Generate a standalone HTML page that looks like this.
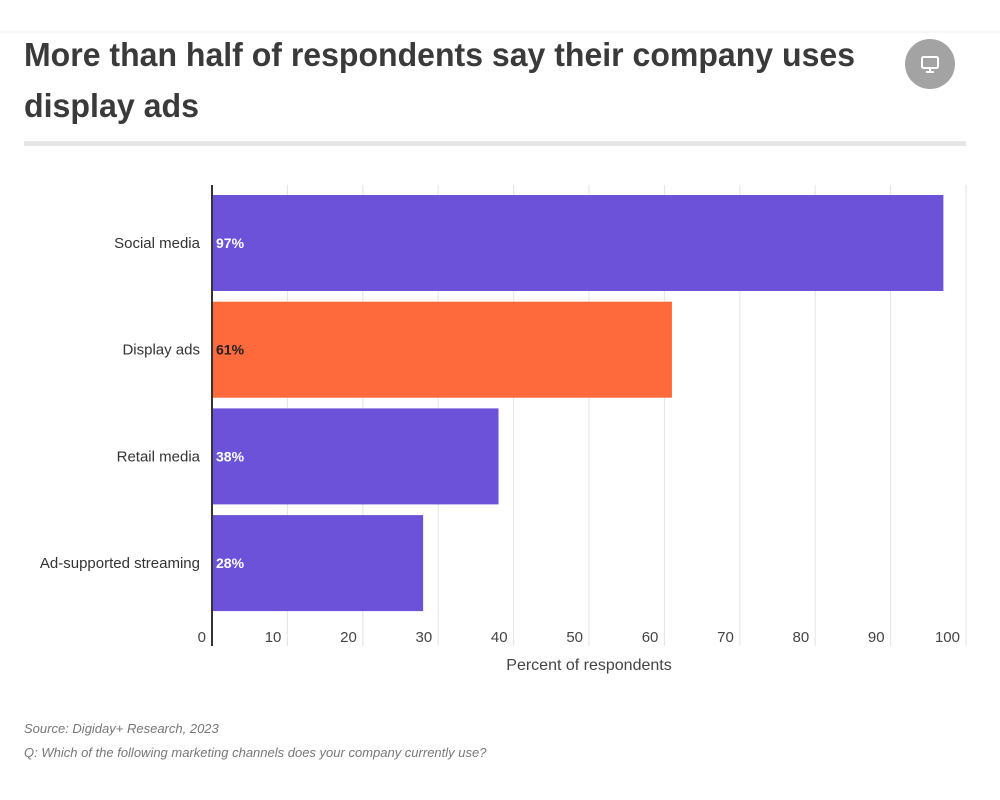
<!DOCTYPE html>
<html><head><meta charset="utf-8">
<style>
body{margin:0;background:#fff;font-family:"Liberation Sans",sans-serif;}
svg{display:block}
</style></head>
<body>
<svg width="1000" height="800" id="c">
<line x1="0" y1="32" x2="1000" y2="32" stroke="#f0f0f0" stroke-width="1"/>
<text x="24" y="66" font-size="33" font-weight="bold" fill="#3a3a3a" textLength="831" lengthAdjust="spacingAndGlyphs">More than half of respondents say their company uses</text>
<text x="24" y="117" font-size="33" font-weight="bold" fill="#3a3a3a" textLength="175" lengthAdjust="spacingAndGlyphs">display ads</text>
<g>
<circle cx="930" cy="64" r="25" fill="#a3a3a3"/>
<rect x="922" y="57" width="16" height="11" rx="1.5" fill="none" stroke="#fff" stroke-width="2"/>
<line x1="930" y1="68" x2="930" y2="72" stroke="#fff" stroke-width="2"/>
<line x1="926" y1="72" x2="934" y2="72" stroke="#fff" stroke-width="2"/>
</g>
<rect x="24" y="141" width="942" height="5" fill="#e6e6e6"/>
<g id="grid"></g>
<g id="bars"></g>
<line x1="212" y1="185" x2="212" y2="646" stroke="#333" stroke-width="2"/>
<text x="589" y="670" font-size="16" fill="#444" text-anchor="middle">Percent of respondents</text>
<text x="24" y="733" font-size="13" font-style="italic" fill="#777">Source: Digiday+ Research, 2023</text>
<text x="24" y="757" font-size="13" font-style="italic" fill="#777">Q: Which of the following marketing channels does your company currently use?</text>
</svg>
<script>
const categories=["Social media","Display ads","Retail media","Ad-supported streaming"];
const values=[97,61,38,28];
const highlight=[false,true,false,false];
const ticks=[0,10,20,30,40,50,60,70,80,90,100];
const NS="http://www.w3.org/2000/svg";
const X0=212,X1=966,TOPY=185,BOTY=646;
const xs=v=>X0+(X1-X0)*v/100;
const band=106.7;
const ys=i=>195+i*band;
function mk(t,a,p){const e=document.createElementNS(NS,t);for(const k in a)e.setAttribute(k,a[k]);p.appendChild(e);return e;}
const grid=document.getElementById('grid'),bars=document.getElementById('bars');
ticks.forEach(t=>{
 if(t>0){const l=mk('line',{x1:xs(t),x2:xs(t),y1:TOPY,y2:BOTY,stroke:'#e3e3e3','stroke-width':1},grid);
 
 }
 const tx=mk('text',{x:xs(t)-6,y:642,'font-size':15,fill:'#444','text-anchor':'end'},grid);
 tx.textContent=t;
 
 
});
categories.forEach((c,i)=>{
 const y=ys(i),h=96;
 const r=mk('rect',{x:X0,y:y,width:xs(values[i])-X0,height:h,fill:highlight[i]?'#ff6a3d':'#6b52d9'},bars);
 
 
 const lb=mk('text',{x:200,y:y+h/2+5,'font-size':15,fill:'#333','text-anchor':'end'},bars);
 lb.textContent=c;
 
 
 const v=mk('text',{x:216,y:y+h/2+5,'font-size':14,'font-weight':'bold',fill:highlight[i]?'#222':'#fff'},bars);
 v.textContent=values[i]+'%';
 
 
});
</script>
</body></html>
